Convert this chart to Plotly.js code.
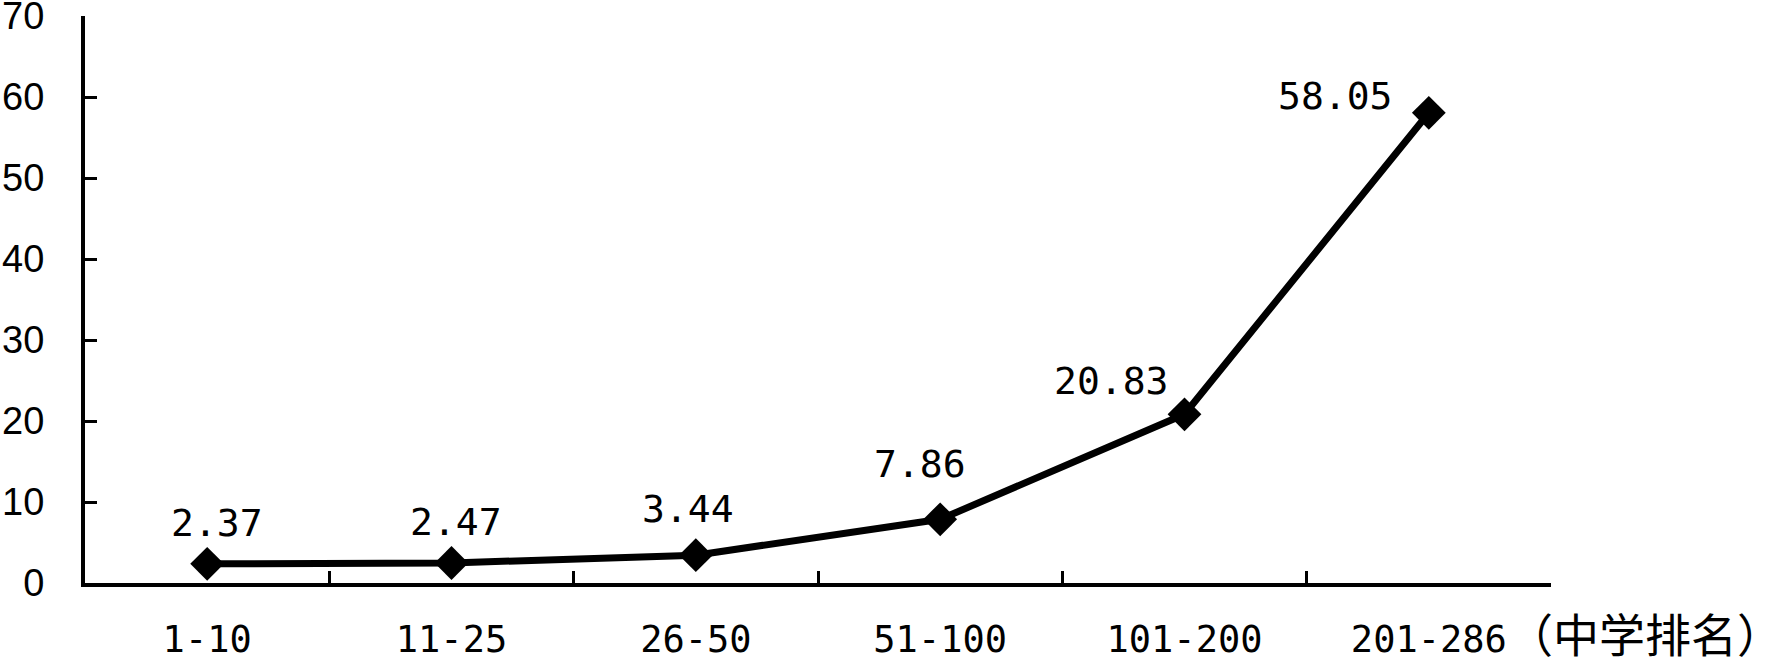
<!DOCTYPE html>
<html>
<head>
<meta charset="utf-8">
<script src="https://cdn.plot.ly/plotly-3.0.1.min.js"></script>
<style>
  html, body { margin: 0; padding: 0; background: #ffffff; }
  #chart { width: 1775px; height: 662px; }
</style>
</head>
<body>
<div id="chart"></div>
<script>
// Data
const categories = ["1-10", "11-25", "26-50", "51-100", "101-200", "201-286"];
const values = [2.37, 2.47, 3.44, 7.86, 20.83, 58.05];
const yTickValues = [0, 10, 20, 30, 40, 50, 60, 70];
const axisNote = "（中学排名）";

// Label placement (style only): pixel offsets of each value label from its point
const labelShiftX = [10, 4, -8, -20, -74, -94];
const labelShiftY = [41, 41, 46, 55, 33, 17];

const monoFont = "'DejaVu Sans Mono', 'Liberation Mono', monospace";

const trace = {
  type: "scatter",
  mode: "lines+markers",
  x: categories,
  y: values,
  line: { color: "#000000", width: 7 },
  marker: { symbol: "diamond", size: 26, color: "#000000" },
  cliponaxis: false,
  hoverinfo: "skip"
};

const valueLabels = categories.map((c, i) => ({
  x: c,
  y: values[i],
  xref: "x",
  yref: "y",
  text: values[i].toFixed(2),
  showarrow: false,
  xanchor: "center",
  yanchor: "middle",
  xshift: labelShiftX[i],
  yshift: labelShiftY[i],
  font: { family: monoFont, size: 38, color: "#000000" }
}));

const layout = {
  width: 1775,
  height: 662,
  paper_bgcolor: "#ffffff",
  plot_bgcolor: "#ffffff",
  showlegend: false,
  margin: { l: 85, r: 224, t: 16, b: 79, pad: 0 },
  xaxis: {
    type: "category",
    range: [-0.5, categories.length - 0.5],
    showline: true,
    linecolor: "#000000",
    linewidth: 4,
    showgrid: false,
    zeroline: false,
    ticks: "inside",
    tickson: "boundaries",
    ticklen: 12,
    tickwidth: 3,
    tickcolor: "#000000",
    ticklabelstandoff: 21,
    ticklabeloverflow: "allow",
    tickfont: { family: monoFont, size: 37, color: "#000000" },
    fixedrange: true
  },
  yaxis: {
    range: [0, 70],
    tickvals: yTickValues,
    ticktext: yTickValues.map(String),
    showline: true,
    linecolor: "#000000",
    linewidth: 4,
    showgrid: false,
    zeroline: false,
    ticks: "inside",
    ticklen: 12,
    tickwidth: 3,
    tickcolor: "#000000",
    ticklabelstandoff: 29,
    ticklabeloverflow: "allow",
    tickfont: { family: "'Liberation Sans', Arial, sans-serif", size: 38, color: "#000000" },
    fixedrange: true
  },
  annotations: valueLabels.concat([{
    text: axisNote,
    xref: "paper",
    yref: "paper",
    x: 1,
    y: 0,
    xanchor: "left",
    yanchor: "middle",
    xshift: -46,
    yshift: -49,
    showarrow: false,
    font: { family: "'Noto Sans CJK SC', sans-serif", size: 46, color: "#000000" }
  }])
};

Plotly.newPlot("chart", [trace], layout, { displayModeBar: false, staticPlot: true });
</script>
</body>
</html>
